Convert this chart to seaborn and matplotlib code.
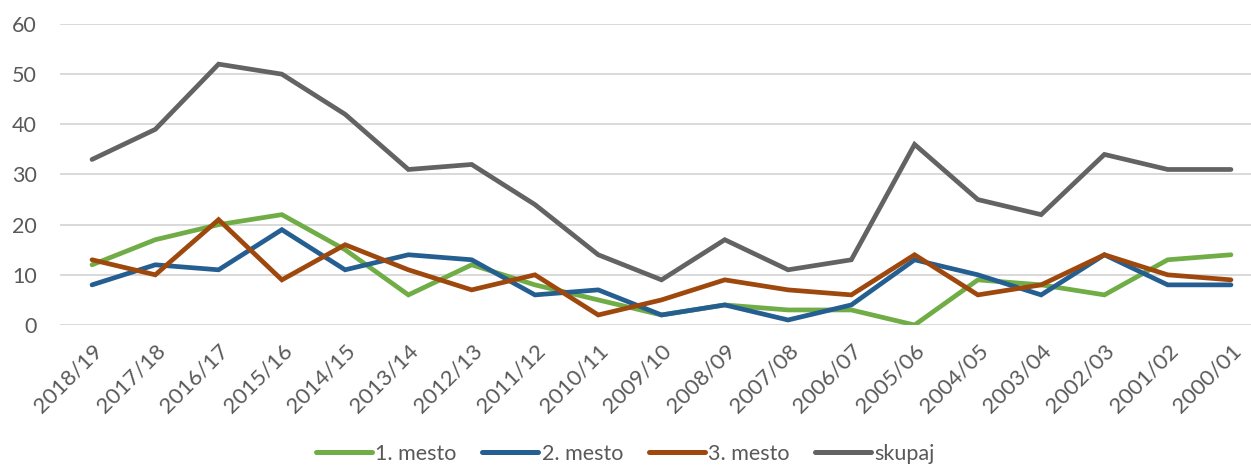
import matplotlib
matplotlib.use("Agg")
import matplotlib.pyplot as plt
import seaborn as sns
import pandas as pd

sezone = ["2018/19", "2017/18", "2016/17", "2015/16", "2014/15", "2013/14", "2012/13",
          "2011/12", "2010/11", "2009/10", "2008/09", "2007/08", "2006/07", "2005/06",
          "2004/05", "2003/04", "2002/03", "2001/02", "2000/01"]
mesto1 = [12, 17, 20, 22, 15, 6, 12, 8, 5, 2, 4, 3, 3, 0, 9, 8, 6, 13, 14]
mesto2 = [8, 12, 11, 19, 11, 14, 13, 6, 7, 2, 4, 1, 4, 13, 10, 6, 14, 8, 8]
mesto3 = [13, 10, 21, 9, 16, 11, 7, 10, 2, 5, 9, 7, 6, 14, 6, 8, 14, 10, 9]
skupaj = [33, 39, 52, 50, 42, 31, 32, 24, 14, 9, 17, 11, 13, 36, 25, 22, 34, 31, 31]

serije = ["1. mesto", "2. mesto", "3. mesto", "skupaj"]
barve = ["#70AD47", "#255E91", "#9E480E", "#636363"]

df = pd.concat([
    pd.DataFrame({"sezona": sezone, "vrednost": v, "serija": s})
    for s, v in zip(serije, [mesto1, mesto2, mesto3, skupaj])
])

sns.set_theme(style="white")
plt.rcParams['font.family'] = ['Lato', 'DejaVu Sans']

fig = plt.figure(figsize=(12.51, 4.68), dpi=100)
ax = fig.add_axes([60.4 / 1251, 1 - 325 / 468, 1202.2 / 1251, 301 / 468])

sns.lineplot(data=df, x="sezona", y="vrednost", hue="serija", palette=barve,
             linewidth=3.4, sort=False, ax=ax, legend=False,
             solid_capstyle="round", solid_joinstyle="miter")

ax.set_xlim(-0.5, len(sezone) - 0.5)
ax.set_ylim(0, 60)
ax.set_yticks(range(0, 61, 10))
ax.grid(axis="y", color="#D9D9D9", linewidth=1.4)
ax.set_axisbelow(True)
for sp in ax.spines.values():
    sp.set_visible(False)
ax.tick_params(axis="both", length=0, colors="#595959")
ax.tick_params(axis="y", pad=17, labelsize=15.5)
ax.tick_params(axis="x", pad=11, labelsize=16)
ax.set_xticks(range(len(sezone)))
ax.set_xticklabels(sezone, rotation=45, ha="right", rotation_mode="anchor")
ax.set_xlabel("")
ax.set_ylabel("")

handles = [plt.Line2D([0], [0], color=c, linewidth=3.6, solid_capstyle="round") for c in barve]
fig.legend(handles, serije, loc="lower center", bbox_to_anchor=(0.5, -0.032), ncol=4,
           frameon=False, fontsize=15.5, labelcolor="#595959", handlelength=2.6,
           handletextpad=0.15, columnspacing=1.2)

fig.savefig("out.png", dpi=100)
